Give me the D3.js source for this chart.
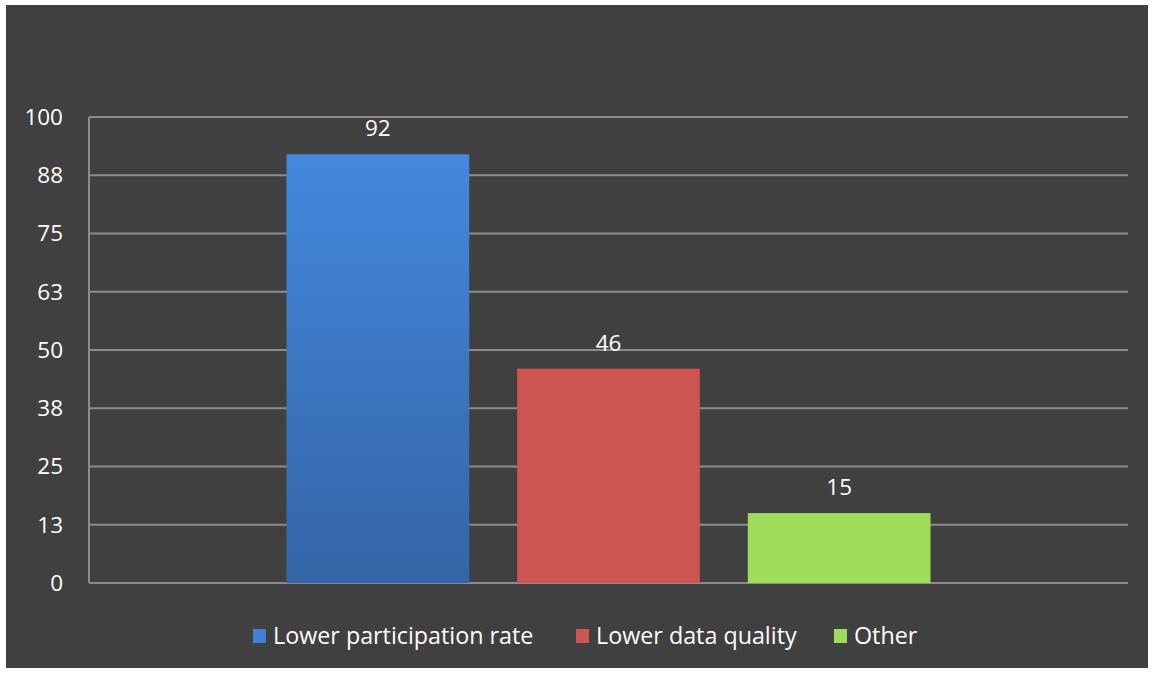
<!DOCTYPE html>
<html>
<head>
<meta charset="utf-8">
<script src="https://cdn.jsdelivr.net/npm/d3@7"></script>
<style>
  html, body { margin: 0; padding: 0; background: #ffffff; }
  svg { display: block; font-family: "Open Sans", "Noto Sans", sans-serif; }
</style>
</head>
<body>
<svg id="chart" width="1153" height="673"></svg>
<script>
// Reasons and counts
const seriesNames = ["Lower participation rate", "Lower data quality", "Other"];
const seriesValues = [92, 46, 15];
const seriesColors = ["#3f80d4", "#cc5552", "#9fdc5a"];
const tickValues = [0, 12.5, 25, 37.5, 50, 62.5, 75, 87.5, 100];
const tickLabels = ["0", "13", "25", "38", "50", "63", "75", "88", "100"];

const W = 1153, H = 673;
const plot = { left: 89, right: 1128, top: 117, bottom: 583 };
const fontSize = 22.5;
const legendFontSize = 23.3;

const svg = d3.select("#chart");

// gradient for the blue bar
const defs = svg.append("defs");
const grad = defs.append("linearGradient")
  .attr("id", "blueGrad").attr("x1", 0).attr("y1", 0).attr("x2", 0).attr("y2", 1);
grad.append("stop").attr("offset", "0%").attr("stop-color", "#4388dd");
grad.append("stop").attr("offset", "100%").attr("stop-color", "#3465a6");
const fills = ["url(#blueGrad)", seriesColors[1], seriesColors[2]];

// chart background
svg.append("rect")
  .attr("x", 6).attr("y", 5)
  .attr("width", W - 11).attr("height", H - 10)
  .attr("fill", "#404040");

const y = d3.scaleLinear().domain([0, 100]).range([plot.bottom, plot.top]);

const x0 = d3.scaleBand().domain(["all"])
  .range([plot.left, plot.right])
  .paddingInner(0).paddingOuter(0.3066);
const x1 = d3.scaleBand().domain(seriesNames)
  .range([0, x0.bandwidth()])
  .paddingInner(48 / 231).paddingOuter(0);

// grid lines
svg.append("g")
  .selectAll("line")
  .data(tickValues)
  .join("line")
  .attr("x1", plot.left).attr("x2", plot.right)
  .attr("y1", d => y(d)).attr("y2", d => y(d))
  .attr("stroke", "#8c8c8c").attr("stroke-width", 2);

// vertical axis line
svg.append("line")
  .attr("x1", plot.left).attr("x2", plot.left)
  .attr("y1", plot.top).attr("y2", plot.bottom)
  .attr("stroke", "#8c8c8c").attr("stroke-width", 2);

// y tick labels
svg.append("g")
  .selectAll("text")
  .data(tickValues)
  .join("text")
  .attr("x", 63)
  .attr("y", d => y(d))
  .attr("dy", "0.35em")
  .attr("text-anchor", "end")
  .attr("fill", "#ffffff")
  .attr("font-size", fontSize)
  .text((d, i) => tickLabels[i]);

// bars
const bx = x0("all");
svg.append("g")
  .selectAll("rect")
  .data(seriesNames)
  .join("rect")
  .attr("x", d => bx + x1(d))
  .attr("y", (d, i) => y(seriesValues[i]))
  .attr("width", x1.bandwidth())
  .attr("height", (d, i) => y(0) - y(seriesValues[i]))
  .attr("fill", (d, i) => fills[i]);

// value labels
svg.append("g")
  .selectAll("text")
  .data(seriesNames)
  .join("text")
  .attr("x", d => bx + x1(d) + x1.bandwidth() / 2)
  .attr("y", (d, i) => y(seriesValues[i]) - 18)
  .attr("text-anchor", "middle")
  .attr("fill", "#ffffff")
  .attr("font-size", fontSize)
  .text((d, i) => seriesValues[i]);

// legend
const legendX = [253, 576, 834];
const lg = svg.append("g")
  .selectAll("g")
  .data(seriesNames)
  .join("g")
  .attr("transform", (d, i) => `translate(${legendX[i]},629)`);
lg.append("rect")
  .attr("width", 13).attr("height", 14)
  .attr("fill", (d, i) => seriesColors[i]);
lg.append("text")
  .attr("x", 20).attr("y", 7)
  .attr("dy", "0.35em")
  .attr("fill", "#ffffff")
  .attr("font-size", legendFontSize)
  .text(d => d);
</script>
</body>
</html>
